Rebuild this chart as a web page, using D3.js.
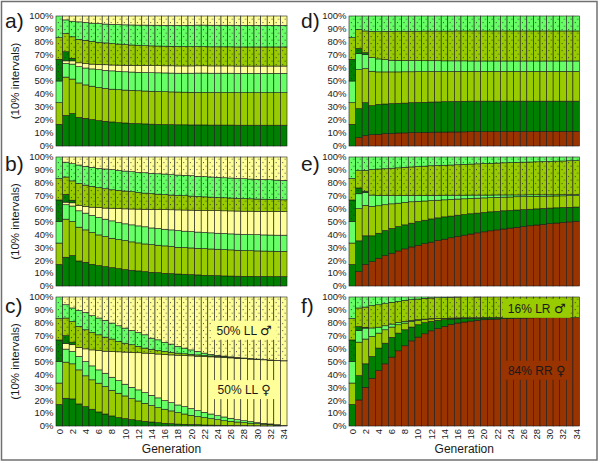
<!DOCTYPE html>
<html>
<head>
<meta charset="utf-8">
<script src="https://cdn.jsdelivr.net/npm/d3@7"></script>
<style>
  body { margin: 0; background: #fff; }
  text { font-family: "Liberation Sans", Arial, sans-serif; fill: #1a1a1a; }
</style>
</head>
<body>
<div id="chart"></div>
<script>
// generations on the x axis
const generations = [0,1,2,3,4,5,6,7,8,9,10,11,12,13,14,15,16,17,18,19,20,21,22,23,24,25,26,27,28,29,30,31,32,33,34]
const genTicks = [0,2,4,6,8,10,12,14,16,18,20,22,24,26,28,30,32,34]
const pctTicks = [0,10,20,30,40,50,60,70,80,90,100]

// share (%) of each genotype class per generation
// f = female (solid), M = male (dotted). top male LL class is the remainder to 100
const a_dg  = [16.7,23.5,25,22,21.3,20.3,19.5,19,18.5,18,17.7,17.4,17.2,17,16.8,16.6,16.5,16.4,16.3,16.3,16.2,16.2,16.2,16.1,16.1,16.1,16.1,16,16,16,16,16,16,16,16]
const a_yg  = [16.6,29.5,26.5,26.5,25.7,25.7,25.5,25.3,25.2,25.3,25.3,25.4,25.3,25.3,25.3,25.3,25.3,25.2,25.2,25.1,25.1,25,25,25,25,25,25,25,25,25,25,25,25,25,25]
const a_lg  = [16.7,10.5,11.5,12.5,13,13.3,13.7,13.9,14.1,14.1,14.1,14.1,14.2,14.2,14.3,14.4,14.4,14.5,14.5,14.6,14.7,14.9,14.9,14.9,14.9,14.9,14.9,14.9,14.9,14.9,14.9,14.9,14.9,14.9,14.9]
const a_ll  = [0,2,2.5,3,3.3,3.7,4,4.3,4.5,4.8,5,5.1,5.3,5.4,5.4,5.5,5.5,5.6,5.6,5.6,5.6,5.6,5.6,5.6,5.6,5.6,5.6,5.6,5.6,5.6,5.6,5.6,5.6,5.6,5.6]
const a_dgM = [16.7,7,2,0,0,0,0,0,0,0,0,0,0,0,0,0,0,0,0,0,0,0,0,0,0,0,0,0,0,0,0,0,0,0,0]
const a_ygM = [16.6,14,16.5,18,18,17.5,17.1,16.8,16.5,16.2,15.9,15.7,15.5,15.3,15.2,15.1,15.1,15,15,14.9,14.8,14.8,14.7,14.7,14.7,14.7,14.7,14.7,14.7,14.7,14.7,14.7,14.7,14.7,14.7]
const a_lgM = [16.7,10.5,12,13.5,13.7,14,14.4,14.5,14.8,15,15.2,15.4,15.5,15.8,15.9,16,16,16.1,16.2,16.3,16.4,16.5,16.6,16.6,16.6,16.6,16.6,16.6,16.6,16.6,16.6,16.6,16.6,16.6,16.6]

const b_dg  = [16.7,22.3,23.6,19.4,18.4,16.8,15.8,15,14.2,13.5,12.7,12.2,11.7,11.1,10.6,10.4,9.8,9.6,9.3,9.1,8.8,8.6,8.3,8.2,8,7.8,7.7,7.6,7.5,7.5,7.4,7.4,7.3,7.3,7.3]
const b_yg  = [16.6,29.5,26.4,26.2,25.1,24.7,23.8,23.3,22.8,22.5,22.5,22,21.7,21.5,21.5,21.2,21.3,21,20.7,20.7,20.7,20.6,20.7,20.5,20.5,20.4,20.3,20.1,20,19.9,19.8,19.7,19.7,19.6,19.6]
const b_lg  = [16.7,11.2,12,12.7,13,13.2,13.5,13.5,13.5,13.2,13,13.2,13.2,13.3,12.9,13,12.9,12.9,13,12.7,12.7,12.6,12.5,12.5,12.4,12.5,12.4,12.5,12.5,12.5,12.6,12.5,12.5,12.5,12.5]
const b_ll  = [0,2,2.5,4.1,5.2,6.4,7.8,8.6,9.8,10.9,11.6,12.3,13,13.6,14.4,14.7,15.2,15.6,16,16.4,16.6,16.9,17.1,17.3,17.5,17.6,17.8,17.9,18,18.1,18.1,18.3,18.3,18.4,18.3]
const b_dgM = [16.7,6,2,0,0,0,0,0,0,0,0,0,0,0,0,0,0,0,0,0,0,0,0,0,0,0,0,0,0,0,0,0,0,0,0]
const b_ygM = [16.6,13.5,15,17.1,16.5,16.1,15.3,15,14.3,14,13.8,13.4,12.9,12.5,12.2,11.9,11.6,11.4,11.2,11.1,10.9,10.7,10.5,10.4,10.2,10.1,10,9.8,9.7,9.6,9.5,9.4,9.3,9.2,9.1]
const b_lgM = [16.7,11.5,13.3,14.3,14.5,14.8,15,15.3,15.6,15.5,15.5,15.5,15.5,15.8,15.7,15.8,16,15.8,15.8,15.8,15.8,15.6,15.7,15.6,15.6,15.5,15.5,15.5,15.5,15.3,15.3,15.2,15.3,15.1,15.1]

const c_dg  = [16.7,21.5,21,17.1,15,13,10.9,9.3,7.8,6.5,5.7,4.9,4.1,3.6,3.1,2.6,2.1,1.8,1.5,1.3,1.1,1,0.8,0.7,0.6,0.5,0.4,0.3,0.3,0.2,0.2,0.1,0.1,0.1,0]
const c_yg  = [16.6,28,27.2,26.4,23.9,22.8,22.3,21.3,19.9,18.9,17.6,16.3,15.3,14,12.7,11.6,10.9,9.9,8.9,8,7.2,6.3,5.7,5,4.3,3.6,3.2,2.8,2.3,2,1.6,1.3,0.9,0.5,0.3]
const c_lg  = [16.7,10.1,9.6,10.4,11.1,10.8,10.3,10.3,10.1,9.8,9.1,8.8,8.6,8.3,8,7.6,6.7,6.4,5.9,5.7,5.2,4.6,4.1,3.6,3.1,2.9,2.4,1.8,1.5,1.2,0.8,0.7,0.6,0.4,0.2]
const c_ll  = [0,4.4,5.2,7.1,9.8,12.4,15,17.1,20,22.3,24.9,27,28.8,30.6,32.4,34,35.7,37,38.6,39.6,40.9,42.2,43.3,44.3,45.4,46.1,46.8,47.6,48.1,48.5,49,49.2,49.4,49.8,50]
const c_dgM = [16.7,6,2,0,0,0,0,0,0,0,0,0,0,0,0,0,0,0,0,0,0,0,0,0,0,0,0,0,0,0,0,0,0,0,0]
const c_ygM = [16.6,13.7,16,16.2,14.8,13.5,12.2,10.9,9.6,8,6.9,6,4.9,3.9,3.2,2.7,2.4,2,1.6,1.4,1.1,1,0.8,0.7,0.6,0.5,0.4,0.3,0.2,0.1,0.1,0.1,0.1,0,0]
const c_lgM = [16.7,10.3,10.5,12.4,13.4,13,13,13,12.4,12.2,11.7,11,10.8,10.3,8.7,8.3,7,6.4,5.2,4.4,3.5,2.7,1.8,1.2,0.8,0.6,0.4,0.3,0.3,0.3,0.2,0.1,0.1,0.1,0.1]

const d_rr  = [0,6.4,8,8.7,9,9.5,9.7,10,10.1,10.3,10.4,10.5,10.6,10.7,10.7,10.8,10.8,10.9,11,11,11,11.1,11.1,11.1,11.2,11.2,11.2,11.2,11.3,11.3,11.3,11.3,11.3,11.3,11.3]
const d_dg  = [16.7,22.3,25.3,22.3,23,22.8,22.9,22.8,22.9,23,23.1,23.1,23.2,23.2,23.4,23.4,23.5,23.5,23.5,23.5,23.5,23.4,23.4,23.4,23.3,23.3,23.3,23.3,23.2,23.2,23.2,23.2,23.2,23.2,23.2]
const d_yg  = [16.6,30,26.2,26.5,25,24.7,24.4,24.2,24.1,23.8,23.7,23.6,23.5,23.4,23.2,23.1,23.1,23,22.9,22.9,22.9,22.9,22.9,22.9,22.9,22.9,22.9,22.9,22.9,22.9,22.9,22.9,22.9,22.9,22.9]
const d_lg  = [16.7,12.3,11,10.5,10,9.4,9,8.9,8.7,8.6,8.5,8.4,8.3,8.3,8.2,8.2,8.1,8.1,8,8,8,8,8,8,8,8,8,8,8,8,8,8,8,8,8]
const d_dgM = [16.7,4,1.3,0,0,0,0,0,0,0,0,0,0,0,0,0,0,0,0,0,0,0,0,0,0,0,0,0,0,0,0,0,0,0,0]
const d_ygM = [16.6,14.5,16.7,20.2,21,21.8,22.2,22.4,22.5,22.6,22.6,22.8,22.8,22.8,22.9,22.9,23,23,23.1,23.1,23.1,23.1,23.1,23.1,23.1,23.1,23.1,23.1,23.1,23.1,23.1,23.1,23.1,23.1,23.1]
const d_lgM = [16.7,10.5,11.5,11.8,12,11.8,11.8,11.7,11.7,11.7,11.7,11.6,11.6,11.6,11.6,11.6,11.5,11.5,11.5,11.5,11.5,11.5,11.5,11.5,11.5,11.5,11.5,11.5,11.5,11.5,11.5,11.5,11.5,11.5,11.5]

const e_rr  = [0,11.1,16.8,18.9,21.5,23.6,25.4,27.2,28.8,30.3,31.5,32.8,34,35.2,36.3,37.4,38.4,39.4,40.3,41.2,42,42.8,43.5,44.2,44.9,45.5,46.1,46.7,47.3,47.8,48.3,48.8,49.3,49.7,50.2]
const e_dg  = [16.7,23.9,22.1,20,19.4,19.4,19.2,18.9,18.6,18.4,18.5,18.2,18,17.6,17.3,16.8,16.5,16,15.7,15.3,15,14.7,14.3,14.1,13.7,13.4,13.1,12.8,12.5,12.3,12.1,11.8,11.5,11.3,11]
const e_yg  = [16.6,25,23.6,22.8,21.3,20,19.1,18.1,17.4,16.6,15.6,14.9,14.2,13.7,13.2,12.9,12.5,12.2,11.9,11.6,11.3,11,10.9,10.6,10.4,10.3,10.1,9.9,9.7,9.5,9.3,9.2,9.1,9,8.9]
const e_lg  = [16.7,11.5,10,8.8,8.1,7.2,6.5,6,5.4,4.9,4.7,4.4,4.1,3.8,3.6,3.3,3,2.8,2.6,2.4,2.2,2,1.9,1.7,1.6,1.4,1.3,1.3,1.2,1.1,1,0.9,0.9,0.8,0.7]
const e_dgM = [16.7,4.5,1,0,0,0,0,0,0,0,0,0,0,0,0,0,0,0,0,0,0,0,0,0,0,0,0,0,0,0,0,0,0,0,0]
const e_ygM = [16.6,13.4,16.1,19.7,20.4,20.7,21.1,21.4,21.8,22.1,22.3,22.6,22.9,23.1,23.2,23.4,23.6,23.9,24,24.2,24.4,24.6,24.7,24.9,25.1,25.2,25.4,25.4,25.6,25.8,25.9,26.1,26.1,26.3,26.4]
const e_lgM = [16.7,10.6,10.4,9.8,9.3,9.1,8.7,8.4,8,7.7,7.4,7.1,6.8,6.6,6.4,6.2,6,5.7,5.5,5.3,5.1,4.9,4.7,4.5,4.3,4.2,4,3.9,3.7,3.5,3.4,3.2,3.1,2.9,2.8]

const f_rr  = [0,20.2,30,37,43,48.2,53.4,58.3,62.2,66,68.9,71.5,73.8,75.6,77.2,78.8,79.8,80.6,81.3,81.9,82.4,82.7,82.9,83.2,83.4,83.6,83.7,83.8,83.9,84,84,84,84,84,84]
const f_dg  = [16.7,18.8,18.2,16.9,17.4,16,15.3,13.7,12.4,10.7,9.6,8.6,7.3,6.3,5.2,4.1,3.3,2.8,2.2,1.7,1.3,1.1,1,0.7,0.5,0.4,0.3,0.2,0.1,0,0,0,0,0,0]
const f_yg  = [16.6,26,19.2,15.5,11.6,10.4,8,6.5,5.2,4.4,3.4,2.5,1.9,1.3,1,0.7,0.6,0.4,0.4,0.3,0.3,0.2,0.1,0.1,0.1,0,0,0,0,0,0,0,0,0,0]
const f_lg  = [16.7,9,8.5,6.6,4.6,3.1,2.3,1.8,1.3,0.8,0.5,0.3,0.2,0.2,0.1,0.1,0.1,0.1,0,0,0,0,0,0,0,0,0,0,0,0,0,0,0,0,0]
const f_dgM = [16.7,3,0.6,0,0,0,0,0,0,0,0,0,0,0,0,0,0,0,0,0,0,0,0,0,0,0,0,0,0,0,0,0,0,0,0]
const f_ygM = [16.6,14.5,15.7,17.3,17.4,17.1,16.9,16.3,16.3,16,16,16.1,16,16.1,16.2,16.1,16.1,16.1,16.1,16,16,16,16,16,16,16,16,16,16,16,16,16,16,16,16]
const f_lgM = [16.7,8.5,7.8,6.7,6,5.2,4.1,3.4,2.6,2.1,1.6,1,0.8,0.5,0.3,0.2,0.1,0,0,0,0,0,0,0,0,0,0,0,0,0,0,0,0,0,0]

// stacking order bottom -> top
const keys = ["rr", "dg", "yg", "lg", "ll", "dgM", "ygM", "lgM", "llM"]
const colors = {
  rr: "#993300", dg: "#008000", yg: "#99cc00", lg: "#66ff66", ll: "#ffff99",
  dgM: "#008000", ygM: "#99cc00", lgM: "#66ff66", llM: "#ffff99"
}
const dotted = k => k.endsWith("M")

const cols = [{x0: 56, x1: 287}, {x0: 349, x1: 579.5}]
const rows = [{y0: 16, y1: 146}, {y0: 157, y1: 286}, {y0: 297, y1: 426}]
const labelBase = [28, 171, 313]

const panels = [
  {label: "a)", col: 0, row: 0, data: {dg: a_dg, yg: a_yg, lg: a_lg, ll: a_ll, dgM: a_dgM, ygM: a_ygM, lgM: a_lgM}},
  {label: "b)", col: 0, row: 1, data: {dg: b_dg, yg: b_yg, lg: b_lg, ll: b_ll, dgM: b_dgM, ygM: b_ygM, lgM: b_lgM}},
  {label: "c)", col: 0, row: 2, data: {dg: c_dg, yg: c_yg, lg: c_lg, ll: c_ll, dgM: c_dgM, ygM: c_ygM, lgM: c_lgM}},
  {label: "d)", col: 1, row: 0, data: {rr: d_rr, dg: d_dg, yg: d_yg, lg: d_lg, dgM: d_dgM, ygM: d_ygM, lgM: d_lgM}},
  {label: "e)", col: 1, row: 1, data: {rr: e_rr, dg: e_dg, yg: e_yg, lg: e_lg, dgM: e_dgM, ygM: e_ygM, lgM: e_lgM}},
  {label: "f)", col: 1, row: 2, data: {rr: f_rr, dg: f_dg, yg: f_yg, lg: f_lg, dgM: f_dgM, ygM: f_ygM, lgM: f_lgM}},
]

// end-state notes in panels c and f: [panel, text, symbol, generation centre, % centre, box key]
const notes = [
  ["c)", "50% LL ", "\u2642", 28, 74, "ll"],
  ["c)", "50% LL ", "\u2640", 28, 28, "ll"],
  ["f)", "16% LR ", "\u2642", 28, 91, "yg"],
  ["f)", "84% RR ", "\u2640", 28, 43, "rr"],
]

const svg = d3.select("#chart").append("svg")
  .attr("width", 600).attr("height", 463)

const defs = svg.append("defs")

svg.append("rect")
  .attr("x", 1.5).attr("y", 1.5).attr("width", 595.5).attr("height", 458.5)
  .attr("fill", "none").attr("stroke", "#707070").attr("stroke-width", 1.5)

// dot patterns for male classes, one set per column so they line up with the bars
cols.forEach((c, ci) => {
  const bw = (c.x1 - c.x0) / generations.length
  ;["dgM", "ygM", "lgM", "llM"].forEach(k => {
    const p = defs.append("pattern")
      .attr("id", `dots-${k}-${ci}`)
      .attr("patternUnits", "userSpaceOnUse")
      .attr("x", c.x0).attr("y", 0)
      .attr("width", bw).attr("height", 7)
    p.append("rect").attr("width", bw).attr("height", 7).attr("fill", colors[k])
    p.append("rect").attr("x", bw * 0.28).attr("y", 1.2).attr("width", 0.9).attr("height", 0.9).attr("fill", "#222")
    p.append("rect").attr("x", bw * 0.66).attr("y", 4.7).attr("width", 0.9).attr("height", 0.9).attr("fill", "#222")
  })
})

panels.forEach(p => {
  const c = cols[p.col], r = rows[p.row]
  const x = d3.scaleBand().domain(generations).range([c.x0, c.x1]).padding(0)
  const y = d3.scaleLinear().domain([0, 1]).range([r.y1, r.y0])

  const table = generations.map((g, i) => {
    const row = {gen: g}
    let sum = 0
    keys.slice(0, -1).forEach(k => {
      row[k] = p.data[k] ? p.data[k][i] : 0
      sum += row[k]
    })
    row.llM = Math.max(0, 100 - sum)
    return row
  })
  const series = d3.stack().keys(keys).offset(d3.stackOffsetExpand)(table)

  const g = svg.append("g")
  g.selectAll("g.layer")
    .data(series)
    .join("g")
    .attr("class", "layer")
    .attr("fill", s => dotted(s.key) ? `url(#dots-${s.key}-${p.col})` : colors[s.key])
    .selectAll("rect")
    .data(s => s.filter(d => d[1] - d[0] > 0.0005))
    .join("rect")
    .attr("x", d => x(d.data.gen))
    .attr("y", d => y(d[1]))
    .attr("width", x.bandwidth())
    .attr("height", d => y(d[0]) - y(d[1]))
    .attr("stroke", "#1b1b1b")
    .attr("stroke-width", 0.6)

  // y tick labels
  g.selectAll("text.ytick")
    .data(pctTicks)
    .join("text")
    .attr("class", "ytick")
    .attr("x", c.x0 - 2.5)
    .attr("y", t => y(t / 100))
    .attr("dy", "0.35em")
    .attr("text-anchor", "end")
    .attr("font-size", 9.5)
    .text(t => t + "%")

  svg.append("text")
    .attr("x", p.col === 0 ? 5 : 301)
    .attr("y", labelBase[p.row])
    .attr("font-size", 21)
    .text(p.label)

  if (p.col === 0) {
    svg.append("text")
      .attr("transform", `translate(19,${(r.y0 + r.y1) / 2}) rotate(-90)`)
      .attr("text-anchor", "middle")
      .attr("font-size", 11.5)
      .text("(10% intervals)")
  }

  if (p.row === 2) {
    g.selectAll("text.xtick")
      .data(genTicks)
      .join("text")
      .attr("class", "xtick")
      .attr("transform", t => `translate(${x(t) + x.bandwidth() / 2},${r.y1 + 3}) rotate(-90)`)
      .attr("dy", "0.35em")
      .attr("text-anchor", "end")
      .attr("font-size", 9.5)
      .text(t => t)
    svg.append("text")
      .attr("x", (c.x0 + c.x1) / 2)
      .attr("y", 453)
      .attr("text-anchor", "middle")
      .attr("font-size", 12)
      .text("Generation")
  }

  notes.filter(n => n[0] === p.label).forEach(([, txt, sym, gen, pct, key]) => {
    const cx = x(gen) + x.bandwidth() / 2
    const cy = y(pct / 100)
    const t = svg.append("text")
      .attr("x", cx).attr("y", cy).attr("dy", "0.35em")
      .attr("text-anchor", "middle").attr("font-size", 12)
    t.append("tspan").text(txt)
    t.append("tspan").style("font-family", "'DejaVu Sans'").attr("font-size", 13).text(sym)
    const bb = t.node().getBBox()
    svg.insert("rect", () => t.node())
      .attr("x", bb.x - 5).attr("y", bb.y - 2)
      .attr("width", bb.width + 10).attr("height", bb.height + 4)
      .attr("fill", colors[key])
  })
})
</script>
</body>
</html>
